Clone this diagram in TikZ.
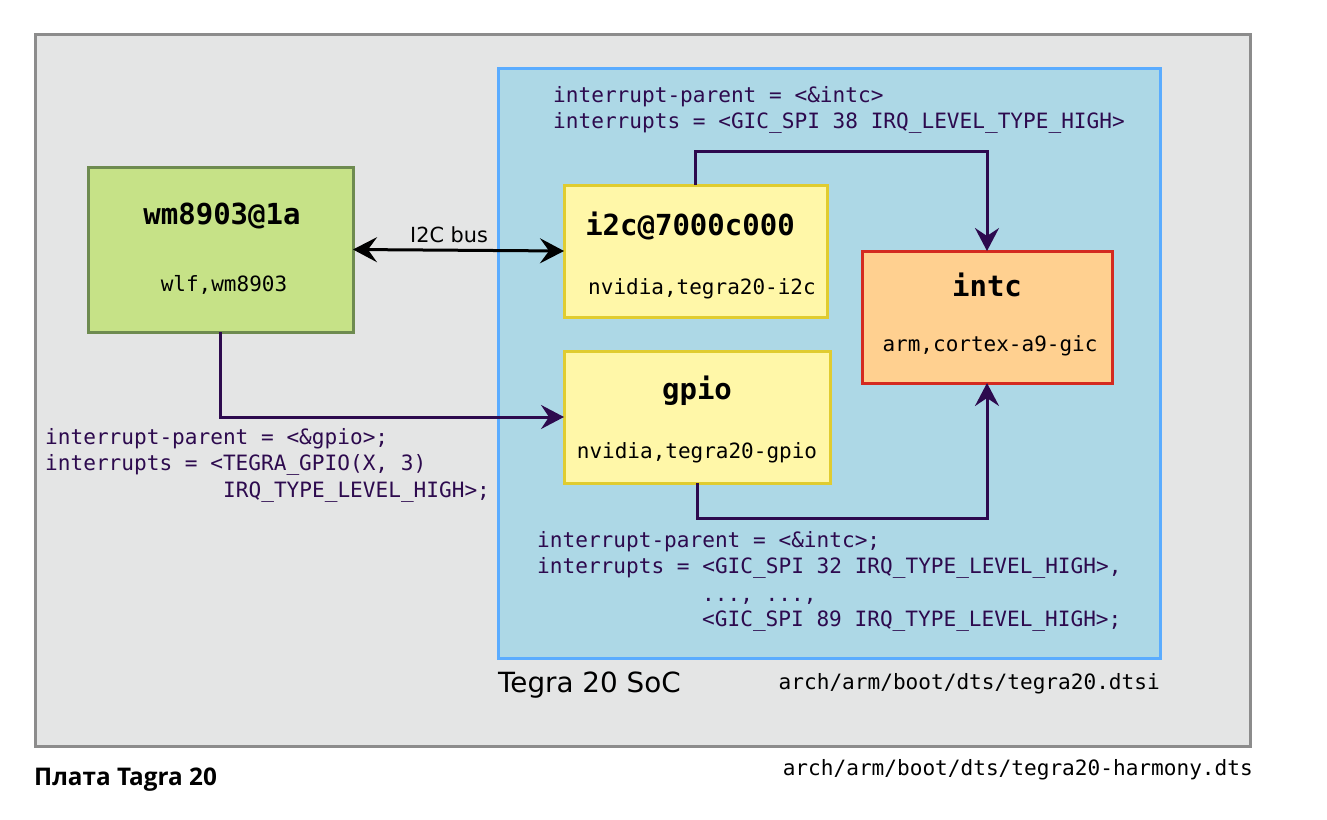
\documentclass[tikz,border=0pt]{standalone}
\usepackage{fontspec}
\setmainfont{DejaVu Sans}
\setmonofont{DejaVu Sans Mono}
\newfontfamily\capfont{Open Sans}
\usetikzlibrary{arrows.meta,positioning}
\definecolor{boardfill}{HTML}{E4E5E5}
\definecolor{boardline}{HTML}{8C8C8C}
\definecolor{socfill}{HTML}{ADD8E6}
\definecolor{socline}{HTML}{5AACFF}
\definecolor{greenfill}{HTML}{C6E287}
\definecolor{greenline}{HTML}{6E8B50}
\definecolor{yellowfill}{HTML}{FFF7A8}
\definecolor{yellowline}{HTML}{E0CC30}
\definecolor{orangefill}{HTML}{FFD090}
\definecolor{orangeline}{HTML}{D42A20}
\definecolor{wire}{HTML}{2D0A4E}
\begin{document}
\begin{tikzpicture}[x=1pt,y=-1pt,
  box/.style={draw,line width=3pt,inner sep=0pt,outer sep=0pt,anchor=north west},
  title/.style={font=\fontsize{29}{32}\selectfont\ttfamily\bfseries,anchor=base,inner sep=0pt},
  compat/.style={font=\fontsize{21}{24}\selectfont\ttfamily,anchor=base,inner sep=0pt},
  code/.style={font=\fontsize{21.1}{24}\selectfont\ttfamily,text=wire,anchor=base west,inner sep=0pt},
  path/.style={font=\fontsize{21.1}{24}\selectfont\ttfamily,anchor=base east,inner sep=0pt},
  conn/.style={draw=wire,line width=3pt,-{Stealth[length=23pt,width=24pt,inset=8pt]}},
  bus/.style={draw=black,line width=3pt,{Stealth[length=24pt,width=25pt,inset=9pt]}-{Stealth[length=24pt,width=25pt,inset=9pt]}}]
\useasboundingbox[fill=white] (0,0) rectangle (1327,819);
% board
\node[box,draw=boardline,fill=boardfill,minimum width=1215pt,minimum height=712pt] (board) at (35,34) {};
% SoC
\node[box,draw=socline,fill=socfill,minimum width=662pt,minimum height=590pt] (soc) at (498,68) {};
% devices
\node[box,draw=greenline,fill=greenfill,minimum width=265pt,minimum height=165pt] (wm) at (88,167) {};
\node[box,draw=yellowline,fill=yellowfill,minimum width=263pt,minimum height=132pt] (i2c) at (564,185) {};
\node[box,draw=yellowline,fill=yellowfill,minimum width=266pt,minimum height=132pt] (gpio) at (564,351) {};
\node[box,draw=orangeline,fill=orangefill,minimum width=250pt,minimum height=132pt] (intc) at (862,251) {};
% titles
\node[title] (wmt) at (222,224) {wm8903@1a};
\node[compat] (wmc) at (224,291) {wlf,wm8903};
\node[title] (i2ct) at (690,235) {i2c@7000c000};
\node[compat] (i2cc) at (702,294) {nvidia,tegra20-i2c};
\node[title] (gpiot) at (697,399) {gpio};
\node[compat] (gpioc) at (697,458) {nvidia,tegra20-gpio};
\node[title] (intct) at (987,296) {intc};
\node[compat] (intcc) at (990,351) {arm,cortex-a9-gic};
% code texts
\node[code] (c1a) at (553,102) {interrupt-parent = <\&intc>};
\node[code] (c1b) at (553,128) {interrupts = <GIC\_SPI 38 IRQ\_LEVEL\_TYPE\_HIGH>};
\node[code] (c2a) at (45,444) {interrupt-parent = <\&gpio>;};
\node[code] (c2b) at (45,470) {interrupts = <TEGRA\_GPIO(X, 3)};
\node[code] (c2c) at (223,497) {IRQ\_TYPE\_LEVEL\_HIGH>;};
\node[code] (c3a) at (537,547) {interrupt-parent = <\&intc>;};
\node[code] (c3b) at (537,573) {interrupts = <GIC\_SPI 32 IRQ\_TYPE\_LEVEL\_HIGH>,};
\node[code] (c3c) at (702,601) {..., ...,};
\node[code] (c3d) at (702,626) {<GIC\_SPI 89 IRQ\_TYPE\_LEVEL\_HIGH>;};
% labels
\node[font=\fontsize{27.8}{30}\selectfont,anchor=base west,inner sep=0pt] (soclbl) at (498,692) {Tegra 20 SoC};
\node[path] (dtsi) at (1160,689) {arch/arm/boot/dts/tegra20.dtsi};
\node[path] (dts) at (1253,775) {arch/arm/boot/dts/tegra20-harmony.dts};
\node[font=\fontsize{24.3}{28}\selectfont\capfont\bfseries,anchor=base west,inner sep=0pt] (boardlbl) at (34,785) {Плата Tagra 20};
\node[font=\fontsize{20.8}{24}\selectfont,anchor=base west,inner sep=0pt] (buslbl) at (410,242) {I2C bus};
% connectors
\draw[bus] (wm.east) -- (i2c.west);
\draw[conn] (i2c.north) -- ++(0,-34) -| (intc.north);
\draw[conn] (gpio.south) -- ++(0,35) -| (intc.south);
\draw[conn] (wm.south) |- (gpio.west);
\end{tikzpicture}
\end{document}
